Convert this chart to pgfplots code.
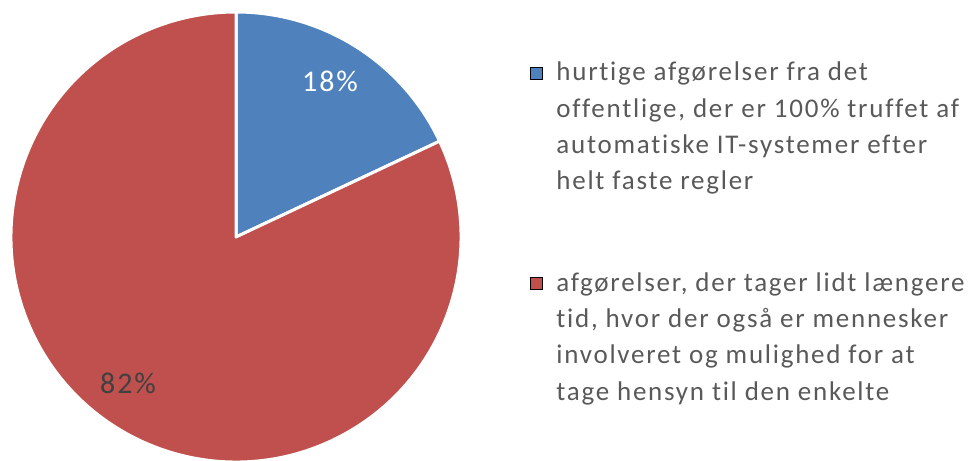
\documentclass[border=0pt]{standalone}
\usepackage{pgfplots}
\pgfplotsset{compat=1.18}
\usepackage{pgfplotstable}
\usepackage{fontspec}
\setmainfont{Carlito}[LetterSpace=6.5, Ligatures={NoCommon,NoDiscretionary,NoContextual}]
\definecolor{pieblue}{HTML}{4F81BD}
\definecolor{piered}{HTML}{C0504D}
\definecolor{txt}{HTML}{595959}
\definecolor{lbl}{HTML}{404040}
\pgfplotstableread{
share
18
82
}\piedata
\begin{document}
\begin{tikzpicture}
\pgfplotstablegetelem{0}{share}\of\piedata \edef\va{\pgfplotsretval}
\pgfplotstablegetelem{1}{share}\of\piedata \edef\vb{\pgfplotsretval}
\pgfmathsetmacro{\angA}{90-3.6*\va}
\pgfmathsetmacro{\angB}{\angA-3.6*\vb}
\pgfmathsetmacro{\bx}{236+225*cos(\angA)}
\pgfmathsetmacro{\by}{223+225*sin(\angA)}
\useasboundingbox (0,0) rectangle (968pt,460pt);
\begin{axis}[
  at={(0,0)}, anchor=south west,
  scale only axis, width=968pt, height=460pt,
  xmin=0, xmax=968, ymin=0, ymax=460,
  hide axis,
  legend style={draw=none, fill=none, at={(axis cs:530,400)}, anchor=north west,
    font=\fontsize{27}{36.3}\selectfont\color{txt}, row sep=186pt,
    inner sep=0pt, cells={anchor=west}},
  legend image code/.code={\fill[#1] (0pt,-7pt) rectangle (12pt,5pt); \path[draw=none,fill=none] (24pt,-7pt) -- (24pt,5pt);},
]
\addlegendimage{fill=pieblue}
\addlegendentry{\parbox[t]{440pt}{hurtige afgørelser fra det\\offentlige, der er 100\% truffet af\\automatiske IT-systemer efter\\helt faste regler}}
\addlegendimage{fill=piered}
\addlegendentry{\parbox[t]{440pt}{afgørelser, der tager lidt længere\\tid, hvor der også er mennesker\\involveret og mulighed for at\\tage hensyn til den enkelte}}
\filldraw[fill=pieblue, draw=white, line width=3pt, line join=round]
  (axis cs:236,223) -- (axis cs:236,448) arc[start angle=90, end angle=\angA, radius=225] -- cycle;
\filldraw[fill=piered, draw=white, line width=3pt, line join=round]
  (axis cs:236,223) -- (axis cs:\bx,\by) arc[start angle=\angA, end angle=\angB, radius=225] -- cycle;
\node[white, font=\fontsize{30}{32}\selectfont] at (axis cs:330,379) {18\%};
\node[lbl, font=\fontsize{30}{32}\selectfont] at (axis cs:128,77) {82\%};
\end{axis}
\end{tikzpicture}
\end{document}
